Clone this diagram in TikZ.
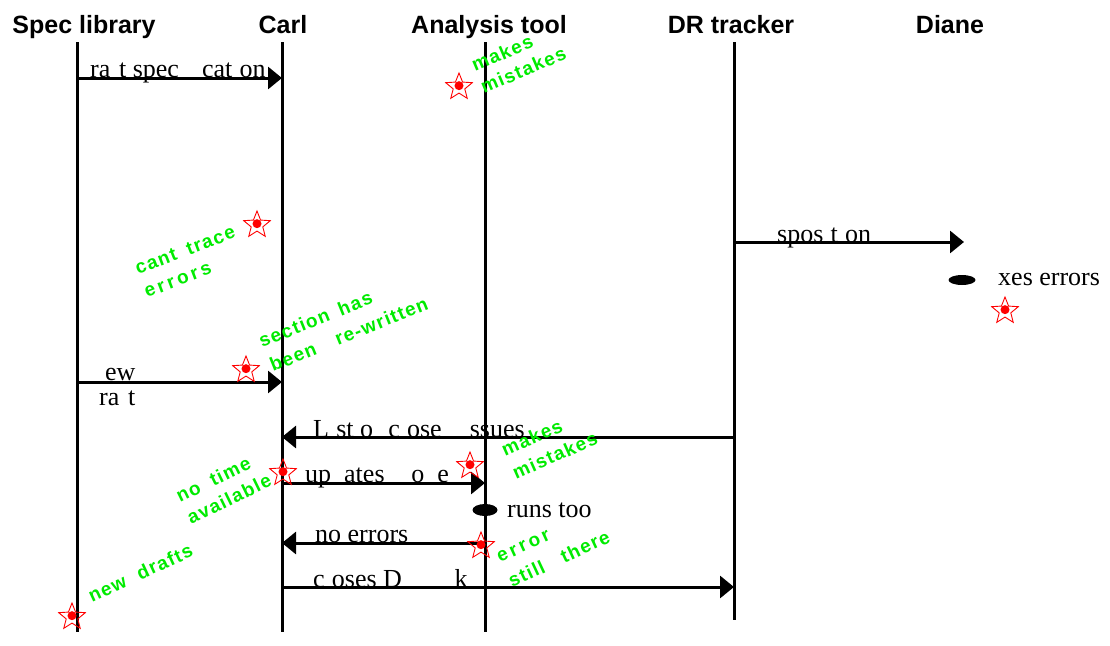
\documentclass[tikz,border=0pt]{standalone}
\usepackage{fontspec}
\setmainfont{Liberation Serif}
\newfontfamily\headfont{Liberation Sans}
\newfontfamily\notefont{Liberation Sans}[LetterSpace=7]
\newfontfamily\notewide{Liberation Sans}[LetterSpace=16]
\usetikzlibrary{arrows.meta,shapes.geometric}
\definecolor{notegreen}{RGB}{0,235,0}
\newcommand{\wgap}[1]{\hspace{#1pt}}
\newcommand{\spread}[1]{{\notewide\bfseries #1}}
\tikzset{
  lifeline/.style={line width=3pt},
  msg/.style={line width=3pt,-{Triangle[length=14pt,width=22pt]}},
  head/.style={font=\headfont\bfseries\fontsize{25}{30}\selectfont,anchor=base,inner sep=0pt},
  lbl/.style={font=\fontsize{26}{30}\selectfont,anchor=base west,inner sep=0pt},
  note/.style={font=\notefont\bfseries\fontsize{19}{22}\selectfont,text=notegreen,anchor=base west,inner sep=0pt},
  redstar/.style={star,star points=5,star point ratio=2.3,minimum size=28pt,inner sep=0pt,
    draw=red,line width=0.9pt,
    path picture={\fill[red] (path picture bounding box.center) circle (4.5pt);}},
  blob/.style={ellipse,fill=black,inner sep=0pt},
}
\begin{document}
\begin{tikzpicture}[x=1pt,y=-1pt]
\useasboundingbox (0,0) rectangle (1110,645);

% participants
\node[head] (hSpec)  at (84,33)  {Spec library};
\node[head] (hCarl)  at (283,33) {Carl};
\node[head] (hTool)  at (489,33) {Analysis tool};
\node[head] (hDR)    at (731,33) {DR tracker};
\node[head] (hDiane) at (950,33) {Diane};

% lifeline ends
\coordinate (specT) at (77,42);  \coordinate (specB) at (77,632);
\coordinate (carlT) at (282,42); \coordinate (carlB) at (282,632);
\coordinate (toolT) at (485,42); \coordinate (toolB) at (485,632);
\coordinate (drT)   at (734,42); \coordinate (drB)   at (734,620);
\coordinate (dianeT) at (964,42);

\draw[lifeline] (specT) -- (specB);
\draw[lifeline] (carlT) -- (carlB);
\draw[lifeline] (toolT) -- (toolB);
\draw[lifeline] (drT) -- (drB);

% messages
\draw[msg] (specT |- 0,78)  -- (carlT |- 0,78);
\draw[msg] (drT |- 0,242)   -- (dianeT |- 0,242);
\draw[msg] (specT |- 0,382) -- (carlT |- 0,382);
\draw[msg] (drT |- 0,437)   -- (carlT |- 0,437);
\draw[msg] (carlT |- 0,483) -- (toolT |- 0,483);
\draw[msg] (toolT |- 0,543) -- (carlT |- 0,543);
\draw[msg] (carlT |- 0,587) -- (drT |- 0,587);

% message labels
\node[lbl] (l1)  at (90,77)   {ra\phantom{f}t spec\phantom{ifi}cat\phantom{i}on};
\node[lbl] (l2)  at (777,242) {spos\phantom{i}t\phantom{i}on};
\node[lbl] (l3a) at (105,380) {ew};
\node[lbl] (l3b) at (99,405)  {ra\phantom{f}t};
\node[lbl] (l4)  at (313,437) {L\phantom{i}st o\phantom{f} c\phantom{l}ose\phantom{d} \phantom{I}ssues};
\node[lbl] (l5)  at (305,482) {up\phantom{d}ates \phantom{m}o\phantom{d}e};
\node[lbl] (l6)  at (507,517) {runs too};
\node[lbl] (l7)  at (315,542) {no errors};
\node[lbl] (l8)  at (313,587) {c\phantom{l}oses D\phantom{R tas}k};
\node[lbl] (l9)  at (998,285) {xes errors};

% activity marks
\node[blob,minimum width=25pt,minimum height=12pt] (b1) at (485,510) {};
\node[blob,minimum width=27pt,minimum height=10pt] (b2) at (962,280) {};

% issue stars
\node[redstar] (s1) at (459,87)  {};
\node[redstar] (s2) at (257,225) {};
\node[redstar] (s3) at (1005,311) {};
\node[redstar] (s4) at (246,370) {};
\node[redstar] (s5) at (283,473) {};
\node[redstar] (s6) at (470,466) {};
\node[redstar] (s7) at (481,546) {};
\node[redstar] (s8) at (72,617)  {};

% annotations
\node[note,rotate=23] (n1a) at (475,72)  {makes};
\node[note,rotate=23] (n1b) at (484,94)  {mistakes};
\node[note,rotate=21] (n2a) at (138,275) {cant \wgap{5}trace};
\node[note,rotate=21] (n2b) at (147,298) {\spread{errors}};
\node[note,rotate=22] (n3a) at (262,348) {section \wgap{4}has};
\node[note,rotate=22] (n3b) at (273,372) {been \wgap{15}re-written};
\node[note,rotate=24] (n4a) at (505,457) {makes};
\node[note,rotate=24] (n4b) at (516,480) {mistakes};
\node[note,rotate=26] (n5a) at (180,503) {no \wgap{6}time};
\node[note,rotate=26] (n5b) at (191,525) {available};
\node[note,rotate=25] (n6a) at (500,563) {\spread{error}};
\node[note,rotate=25] (n6b) at (512,588) {still \wgap{13}there};
\node[note,rotate=25] (n7)  at (92,603)  {new \wgap{7}drafts};
\end{tikzpicture}
\end{document}
